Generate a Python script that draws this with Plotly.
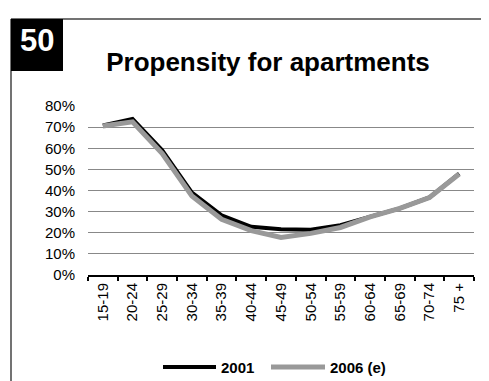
import plotly.graph_objects as go

categories = ["15-19", "20-24", "25-29", "30-34", "35-39", "40-44", "45-49",
              "50-54", "55-59", "60-64", "65-69", "70-74", "75 +"]
values_2001 = [0.708, 0.739, 0.591, 0.390, 0.282, 0.228, 0.217, 0.214, 0.236, 0.275, 0.315, 0.367, 0.480]
values_2006 = [0.705, 0.725, 0.575, 0.374, 0.264, 0.210, 0.178, 0.197, 0.225, 0.275, 0.315, 0.367, 0.478]
series_names = ["2001", "2006 (e)"]
y_ticks = [0, 0.1, 0.2, 0.3, 0.4, 0.5, 0.6, 0.7, 0.8]
title_text = "Propensity for apartments"
badge_text = "50"

W, H = 489, 381
L, R, T, B = 80, 23, 98, 114
pw, ph = W - L - R, H - T - B

def px(x):
    return (x - L) / pw

def py(y):
    return 1 - (y - T) / ph

FONT = "Liberation Sans, Arial, sans-serif"
colors = ["#000000", "#999999"]
widths = [4, 5]

fig = go.Figure()
for name, vals, c, w in zip(series_names, [values_2001, values_2006], colors, widths):
    fig.add_trace(go.Scatter(x=categories, y=vals, mode="lines", name=name,
                             line=dict(color=c, width=w), showlegend=False))

# manual legend (long line samples like the original)
legend_items = [(155, 208, 211), (263, 317, 320)]
LEG_Y = 359
shapes = [
    dict(type="line", xref="paper", yref="paper", x0=px(3), x1=px(489), y0=py(11), y1=py(11),
         line=dict(color="#444", width=1.5)),
    dict(type="line", xref="paper", yref="paper", x0=px(3), x1=px(3), y0=py(11), y1=py(381),
         line=dict(color="#444", width=1.5)),
    dict(type="rect", xref="paper", yref="paper", x0=px(3), x1=px(55), y0=py(63), y1=py(11),
         fillcolor="#000", line=dict(width=0)),
]
annotations = [
    dict(text="<b>%s</b>" % badge_text, xref="paper", yref="paper", x=px(29), y=py(32),
         xanchor="center", yanchor="middle", showarrow=False,
         font=dict(size=31, color="#fff", family=FONT)),
]
for (x0, x1, tx), name, c, w in zip(legend_items, series_names, colors, widths):
    shapes.append(dict(type="line", xref="paper", yref="paper", x0=px(x0), x1=px(x1),
                       y0=py(LEG_Y), y1=py(LEG_Y), line=dict(color=c, width=w)))
    annotations.append(dict(text="<b>%s</b>" % name, xref="paper", yref="paper",
                            x=px(tx), y=py(LEG_Y), xanchor="left", yanchor="middle",
                            showarrow=False, font=dict(size=15, color="#000", family=FONT)))

fig.update_layout(
    width=W, height=H,
    margin=dict(l=L, r=R, t=T, b=B, autoexpand=False),
    paper_bgcolor="white", plot_bgcolor="white",
    font=dict(family=FONT, size=15, color="#000"),
    title=dict(text="<b>%s</b>" % title_text, x=260 / W, xref="container", xanchor="center",
               y=1 - 54 / H, yanchor="middle", font=dict(size=26, color="#000")),
    showlegend=False,
    xaxis=dict(type="category", tickangle=-90, ticks="outside", ticklen=4, tickwidth=2,
               tickcolor="#000", tickson="boundaries", showline=True, linecolor="#000",
               linewidth=2, showgrid=False, zeroline=False, tickfont=dict(size=15),
               range=[-0.5, len(categories) - 0.5], automargin=False),
    yaxis=dict(range=[0, 0.8], tickvals=y_ticks, tickformat=".0%", showgrid=True,
               gridcolor="#888888", gridwidth=1, zeroline=False, showline=False,
               ticks="", tickfont=dict(size=15), ticklabelstandoff=12, automargin=False),
    shapes=shapes,
    annotations=annotations,
)

fig.write_html("out.html")
